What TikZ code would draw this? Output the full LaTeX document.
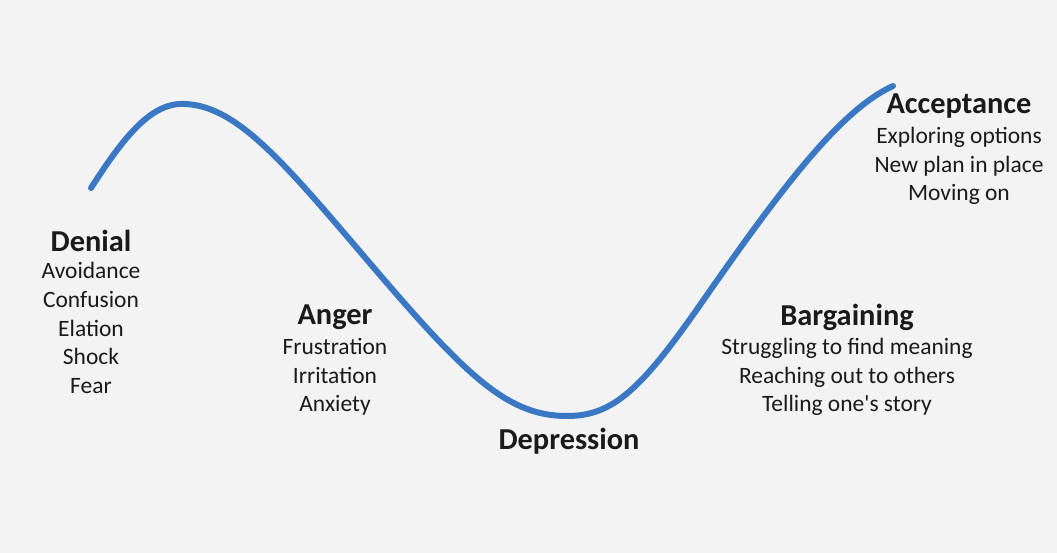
\documentclass[tikz,border=0pt]{standalone}
\usepackage{fontspec}
\setmainfont{Carlito}
\definecolor{bgc}{HTML}{F3F3F3}
\definecolor{curveblue}{HTML}{3B78C4}
\definecolor{txt}{HTML}{1A1A1A}
\tikzset{
  stage/.style={font=\fontsize{22.8}{24}\selectfont\bfseries,text=txt,inner sep=0pt},
  feel/.style={font=\fontsize{17.6}{21.4}\selectfont,text=txt,align=center,inner sep=0pt}
}
\begin{document}
\begin{tikzpicture}[x=0.75pt,y=-0.75pt,line cap=round,line join=round]
  \fill[bgc] (0,0) rectangle (1057,553);
  \useasboundingbox (0,0) rectangle (1057,553);
  % the curve
  \coordinate (start) at (91,188);
  \coordinate (peak) at (185,104);
  \coordinate (down) at (380,275);
  \coordinate (low) at (567,416);
  \coordinate (up) at (700,305);
  \coordinate (end) at (893,86);
  \draw[curveblue,line width=4.5pt] (start) .. controls (125,135) and (152,102) .. (peak)
    .. controls (240,106) and (290,170) .. (down)
    .. controls (470,380) and (510,416) .. (low)
    .. controls (612,416) and (640,391) .. (up)
    .. controls (780,190) and (840,110) .. (end);
  % stages
  \node[stage] (denial) at (91,241) {Denial};
  \node[feel] (denialtxt) at (91,328) {Avoidance\\Confusion\\Elation\\Shock\\Fear};
  \node[stage] (anger) at (335,317) {Anger};
  \node[feel] (angertxt) at (335,377) {Frustration\\Irritation\\Anxiety};
  \node[stage] (depression) at (569,441) {Depression};
  \node[stage] (bargaining) at (847,317) {Bargaining};
  \node[feel] (bargainingtxt) at (847,377) {Struggling to find meaning\\Reaching out to others\\Telling one\textquotesingle s story};
  \node[stage] (acceptance) at (959,106) {Acceptance};
  \node[feel] (acceptancetxt) at (959,166) {Exploring options\\New plan in place\\Moving on};
\end{tikzpicture}
\end{document}
